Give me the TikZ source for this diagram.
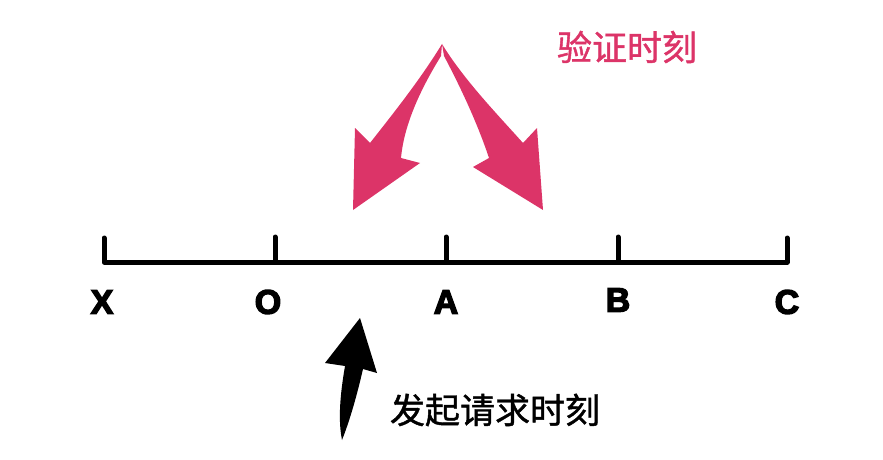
\documentclass[tikz,border=0pt]{standalone}
\usepackage{fontspec}
\setmainfont{Liberation Sans}
\newfontfamily\labelfont[BoldFeatures={FakeBold=4}]{Liberation Sans}
\newfontfamily\cjk[FakeBold=1.2]{Noto Sans CJK SC}
\definecolor{pinkarrow}{HTML}{DC3468}
\begin{document}
\begin{tikzpicture}[x=1pt,y=-1pt,
  axis/.style={line width=5pt,line cap=round,line join=round},
  ticklabel/.style={font=\labelfont\fontsize{34}{34}\selectfont\bfseries,anchor=center,inner sep=0pt},
  cjklabel/.style={font=\cjk\fontsize{35}{35}\selectfont,anchor=center,inner sep=0pt}]
\useasboundingbox (0,0) rectangle (883,460);
% tick coordinates
\coordinate (tX) at (104,262);
\coordinate (tO) at (275,262);
\coordinate (tA) at (446,262);
\coordinate (tB) at (618,262);
\coordinate (tC) at (787,262);
\draw[axis] (104,238) -- (tX) -- (tC) -- (787,238);
\foreach \p in {tO,tA,tB}{\draw[axis] (\p) -- ++(0,-25);}
% labels
\node[ticklabel] (lX) at (102,302) {X};
\node[ticklabel] (lO) at (268,302) {O};
\node[ticklabel] (lA) at (446,302) {A};
\node[ticklabel] (lB) at (618,300) {B};
\node[ticklabel] (lC) at (787,302) {C};
% pink arrows
\fill[pinkarrow] (442,44) .. controls (420,80) and (392,115) .. (370,143)
  -- (355,128) -- (353,210) -- (420,163) -- (401,158)
  .. controls (404,125) and (420,90) .. (441,56) -- cycle;
\fill[pinkarrow] (442,44) .. controls (464,80) and (498,115) .. (523,143)
  -- (537,128) -- (543,210) -- (473,167) -- (489,158)
  .. controls (478,125) and (462,90) .. (444,56) -- cycle;
\node[cjklabel,text=pinkarrow] (verify) at (627,47) {验证时刻};
% black arrow
\fill[black] (360,318) -- (377,373) -- (363,369)
  .. controls (357,395) and (350,420) .. (342,440)
  .. controls (338,420) and (340,395) .. (345,366)
  -- (325,363) -- cycle;
\node[cjklabel] (request) at (495,410) {发起请求时刻};
\end{tikzpicture}
\end{document}
